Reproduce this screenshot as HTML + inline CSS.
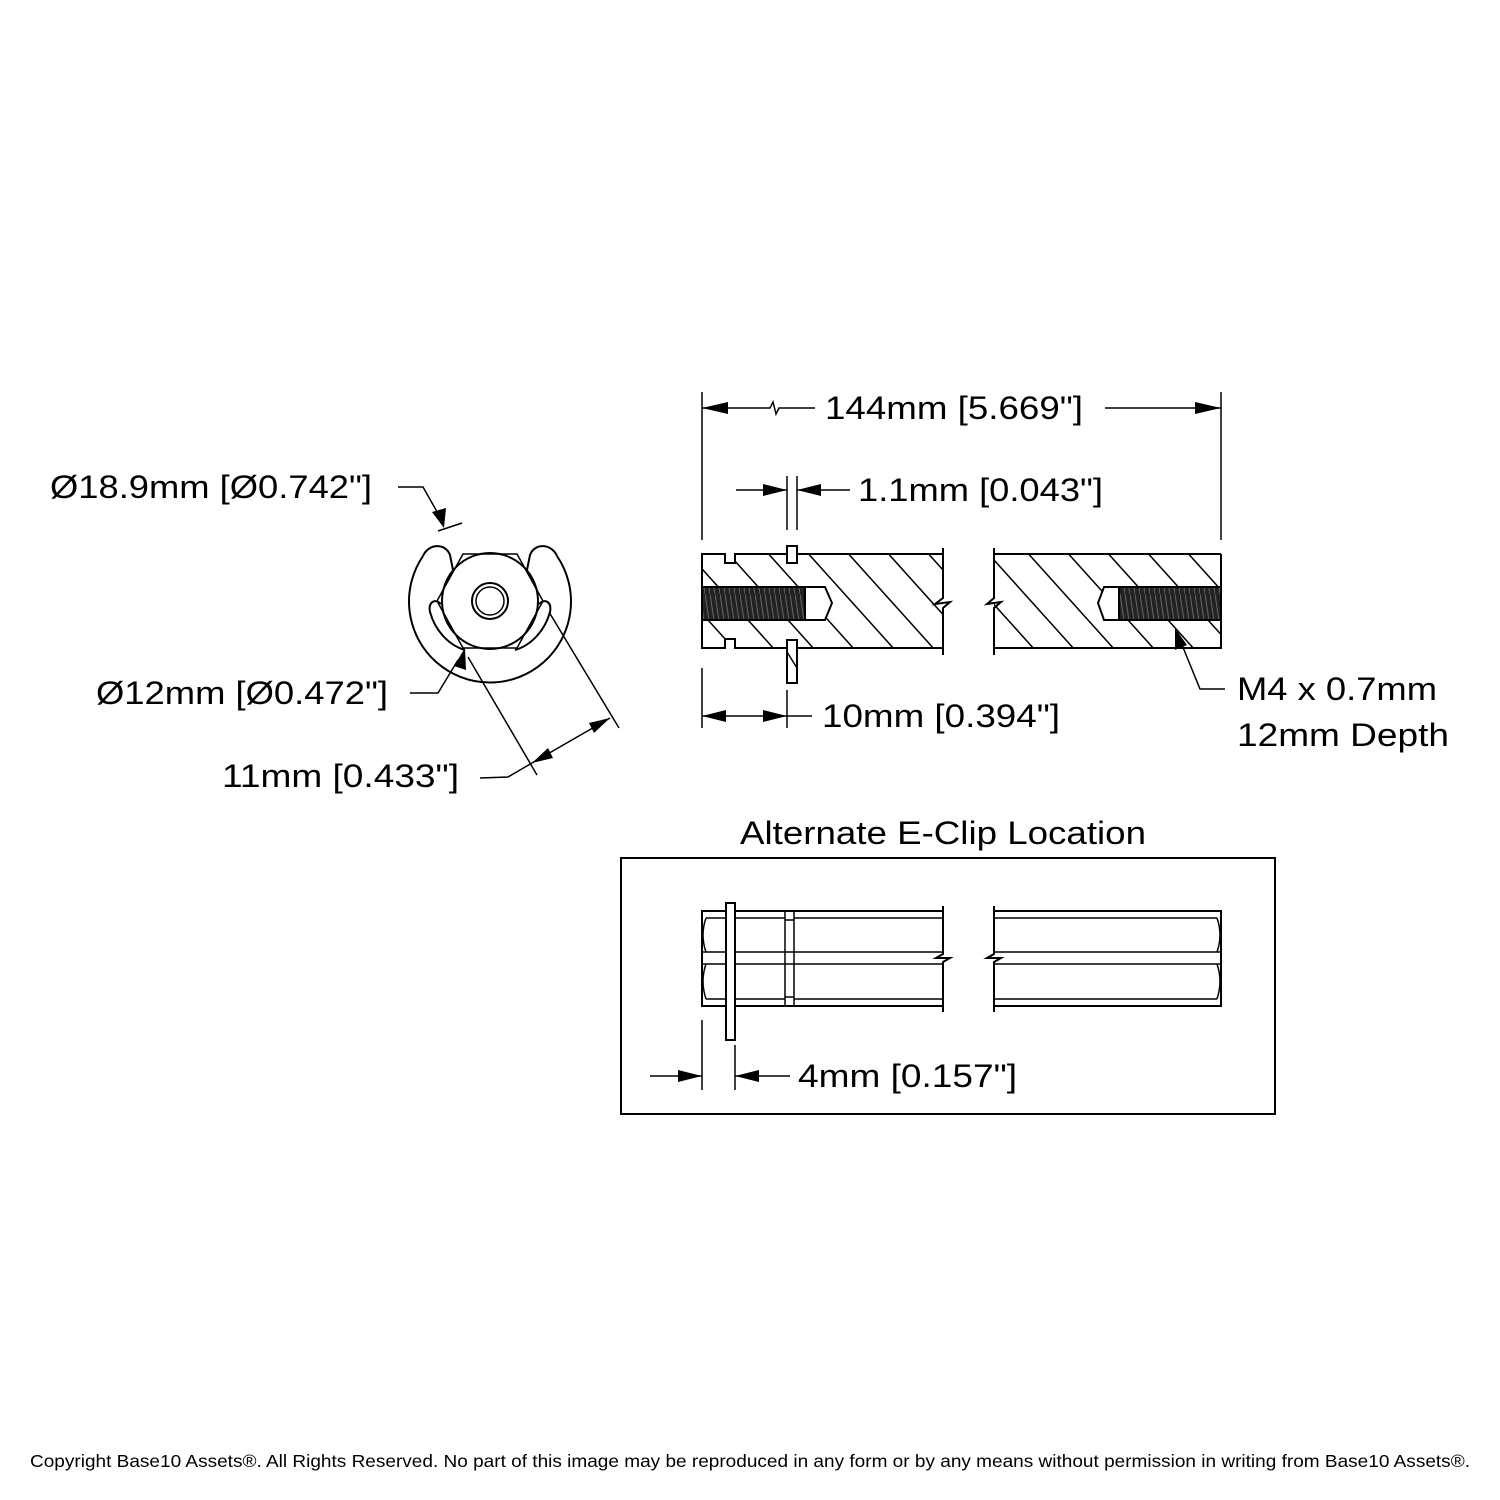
<!DOCTYPE html>
<html><head><style>
body{margin:0;background:#fff}
svg{display:block}
text{font-family:"Liberation Sans","DejaVu Sans",sans-serif;fill:#000}
</style></head><body>
<svg width="1500" height="1500" viewBox="0 0 1500 1500" xmlns="http://www.w3.org/2000/svg">
<defs>
<clipPath id="cl"><rect x="702" y="554" width="241" height="94"/></clipPath>
<clipPath id="cr"><rect x="994" y="554" width="227" height="94"/></clipPath>
<pattern id="thr" width="5" height="33" patternUnits="userSpaceOnUse"><rect width="5" height="33" fill="#222"/><path d="M0 0 L5 33" stroke="#666" stroke-width="1"/></pattern>
</defs>
<g fill="none" stroke="#000" stroke-width="2">
<!-- end view -->
<path d="M423 556 A81 81 0 1 0 557 556"/>
<path d="M423 556 C428 544 445 542 450 555 L453 570"/>
<path d="M557 556 C552 544 535 542 530 555 L527 570"/>
<path d="M441 604 C435 598 428 602 430 612 C435 630 448 645 465 650"/>
<path d="M539 604 C545 598 552 602 550 612 C545 630 532 645 515 650"/>
<polygon points="463,554 517,554 543,601 517,648 463,648 437,601" stroke-width="1.5"/>
<circle cx="490" cy="601" r="48"/>
<circle cx="490" cy="601" r="18"/>
<circle cx="490" cy="601" r="14" stroke-width="1.5"/>
<!-- end view dims -->
<polyline points="398,487 423,487 440,517" stroke-width="1.5"/>
<line x1="438" y1="531" x2="462" y2="523" stroke-width="1.5"/>
<polyline points="410,693 438,693 458,660" stroke-width="1.5"/>
<line x1="468" y1="657" x2="537" y2="775" stroke-width="1.5"/>
<line x1="549" y1="612" x2="619" y2="728" stroke-width="1.5"/>
<line x1="532" y1="763" x2="610" y2="718" stroke-width="1.5"/>
<polyline points="480,778 508,777 532,763" stroke-width="1.5"/>
</g>
<g fill="#000">
<polygon points="444,528 432,512 446,508"/>
<polygon points="465,648 454,666 466,670"/>
<polygon points="532,763 548,748 553,758"/>
<polygon points="610,718 589,723 594,733"/>
</g>
<text x="50" y="498" font-size="32" textLength="322" lengthAdjust="spacingAndGlyphs">Ø18.9mm [Ø0.742"]</text>
<text x="96" y="704" font-size="32" textLength="292" lengthAdjust="spacingAndGlyphs">Ø12mm [Ø0.472"]</text>
<text x="222" y="787" font-size="32" textLength="237" lengthAdjust="spacingAndGlyphs">11mm [0.433"]</text>

<!-- side section -->
<g clip-path="url(#cl)" stroke="#000" stroke-width="1.5">
<path d="M640 500 L820 700 M680 500 L860 700 M720 500 L900 700 M760 500 L940 700 M800 500 L980 700 M840 500 L1020 700 M880 500 L1060 700 M920 500 L1100 700 M600 500 L780 700 M560 500 L740 700"/>
</g>
<g clip-path="url(#cr)" stroke="#000" stroke-width="1.5">
<path d="M900 500 L1080 700 M940 500 L1120 700 M980 500 L1160 700 M1020 500 L1200 700 M1060 500 L1240 700 M1100 500 L1280 700 M1140 500 L1320 700 M1180 500 L1360 700 M860 500 L1040 700 M820 500 L1000 700"/>
</g>
<g stroke="#000" stroke-width="2">
<rect x="702" y="587" width="103" height="33" fill="url(#thr)"/>
<path d="M805 587 L825 587 L832 603 L825 620 L805 620 Z" fill="#fff"/>
<rect x="1119" y="587" width="102" height="33" fill="url(#thr)"/>
<path d="M1119 587 L1104 587 L1098 603 L1104 620 L1119 620 Z" fill="#fff"/>
<rect x="725" y="554" width="10" height="9" fill="#fff" stroke="none"/>
<rect x="725" y="639" width="10" height="9" fill="#fff" stroke="none"/>
</g>
<g fill="none" stroke="#000" stroke-width="2">
<path d="M943 554 L735 554 L735 563 L725 563 L725 554 L702 554 L702 648 L725 648 L725 639 L735 639 L735 648 L943 648"/>
<path d="M943 548 L943 598 L935 604 L950 602 L943 608 L943 655"/>
<path d="M1221 554 L994 554 M994 648 L1221 648 L1221 554"/>
<path d="M994 548 L994 598 L987 604 L1001 602 L994 608 L994 655"/>
<rect x="787" y="546" width="10" height="17" fill="#fff"/>
<rect x="787" y="640" width="10" height="43" fill="#fff"/>
<line x1="787" y1="652" x2="797" y2="668" stroke-width="1.5"/>
<line x1="702" y1="392" x2="702" y2="540" stroke-width="1.5"/>
<line x1="1221" y1="392" x2="1221" y2="540" stroke-width="1.5"/>
<path d="M702 408 L770 408 L773 402 L776 414 L779 408 L815 408 M1105 408 L1221 408" stroke-width="1.5"/>
<line x1="787" y1="476" x2="787" y2="530" stroke-width="1.5"/>
<line x1="797" y1="476" x2="797" y2="530" stroke-width="1.5"/>
<line x1="736" y1="490" x2="787" y2="490" stroke-width="1.5"/>
<line x1="797" y1="490" x2="850" y2="490" stroke-width="1.5"/>
<line x1="702" y1="668" x2="702" y2="728" stroke-width="1.5"/>
<line x1="787" y1="690" x2="787" y2="728" stroke-width="1.5"/>
<line x1="702" y1="716" x2="812" y2="716" stroke-width="1.5"/>
<polyline points="1225,689 1200,689 1180,640" stroke-width="1.5"/>
</g>
<g fill="#000">
<polygon points="702,408 728,402 728,414"/>
<polygon points="1221,408 1195,402 1195,414"/>
<polygon points="787,490 763,484 763,496"/>
<polygon points="797,490 821,484 821,496"/>
<polygon points="702,716 726,710 726,722"/>
<polygon points="787,716 763,710 763,722"/>
<polygon points="1175,628 1175,650 1187,645"/>
</g>
<text x="825" y="419" font-size="32" textLength="258" lengthAdjust="spacingAndGlyphs">144mm [5.669"]</text>
<text x="858" y="501" font-size="32" textLength="245" lengthAdjust="spacingAndGlyphs">1.1mm [0.043"]</text>
<text x="822" y="727" font-size="32" textLength="238" lengthAdjust="spacingAndGlyphs">10mm [0.394"]</text>
<text x="1237" y="700" font-size="32" textLength="200" lengthAdjust="spacingAndGlyphs">M4 x 0.7mm</text>
<text x="1237" y="746" font-size="32" textLength="212" lengthAdjust="spacingAndGlyphs">12mm Depth</text>

<!-- alternate -->
<text x="740" y="844" font-size="32" textLength="406" lengthAdjust="spacingAndGlyphs">Alternate E-Clip Location</text>
<rect x="621" y="858" width="654" height="256" fill="none" stroke="#000" stroke-width="2"/>
<g fill="none" stroke="#000" stroke-width="2">
<path d="M943 911 L702 911 L702 1006 L943 1006 M943 906 L943 954 L936 958 L950 958 L943 962 L943 1012"/>
<path d="M994 906 L994 954 L987 958 L1001 958 L994 962 L994 1012 M994 911 L1221 911 L1221 1006 L994 1006"/>
<path d="M706 918 L785 918 M794 918 L943 918 M702 952 L943 952 M702 964 L943 964 M706 999 L785 999 M794 999 L943 999" stroke-width="1.5"/>
<path d="M994 918 L1217 918 M994 952 L1221 952 M994 964 L1221 964 M994 999 L1217 999" stroke-width="1.5"/>
<path d="M706 918 Q700 935 706 952 M706 964 Q700 981 706 999 M1217 918 Q1223 935 1217 952 M1217 964 Q1223 981 1217 999" stroke-width="1.5"/>
<path d="M785 911 L785 1006 M794 911 L794 1006 M785 920 L794 920 M785 997 L794 997" stroke-width="1.5"/>
<rect x="726" y="903" width="9" height="137" fill="#fff"/>
<line x1="702" y1="1020" x2="702" y2="1090" stroke-width="1.5"/>
<line x1="735" y1="1045" x2="735" y2="1090" stroke-width="1.5"/>
<line x1="650" y1="1076" x2="702" y2="1076" stroke-width="1.5"/>
<line x1="735" y1="1076" x2="790" y2="1076" stroke-width="1.5"/>
</g>
<g fill="#000">
<polygon points="702,1076 678,1070 678,1082"/>
<polygon points="735,1076 759,1070 759,1082"/>
</g>
<text x="798" y="1087" font-size="32" textLength="219" lengthAdjust="spacingAndGlyphs">4mm [0.157"]</text>

<text x="30" y="1467" font-size="17.5" textLength="1440" lengthAdjust="spacingAndGlyphs">Copyright Base10 Assets®.  All Rights Reserved. No part of this image may be reproduced in any form or by any means without permission in writing from Base10 Assets®.</text>
</svg>
</body></html>
